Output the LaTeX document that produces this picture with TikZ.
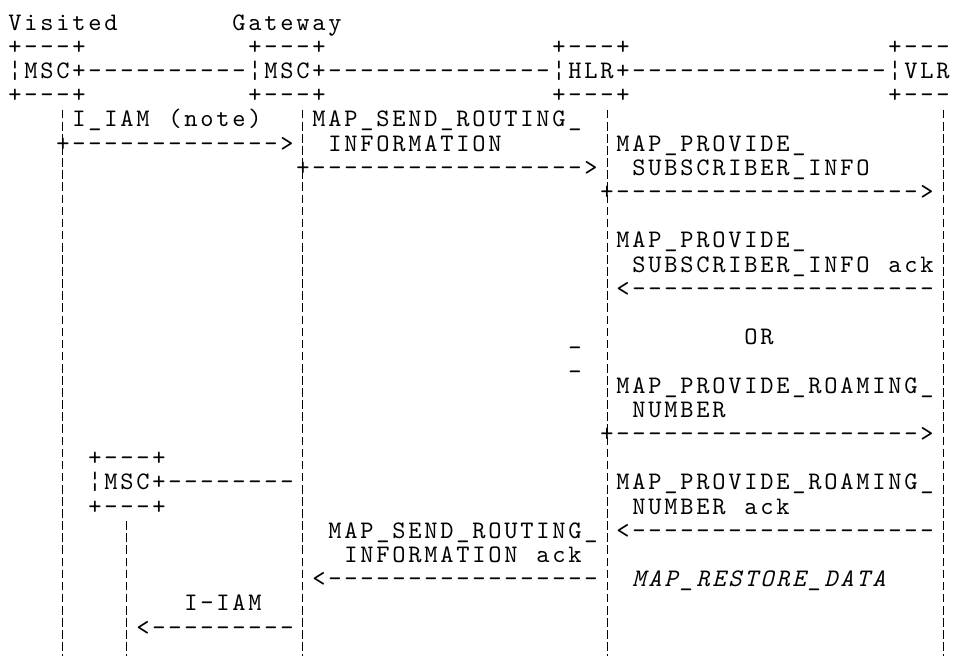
\documentclass[tikz,border=0pt]{standalone}
\usepackage{fontspec}
\usepackage{tikz}
\usetikzlibrary{positioning, calc}

% typewriter text, one column = 8pt, one line = 12.1pt
\newfontfamily\asciifam{lmmono10-regular.otf}[LetterSpace=11.0, ItalicFont=lmmono10-italic.otf]
\newcommand\asciifont{\fontsize{12.6}{12.1}\asciifam}

\begin{document}
\begin{tikzpicture}[
  x=8pt, y=-12.1pt,
  ascii/.style    = {anchor=base west, inner sep=0pt, outer sep=0pt, font=\asciifont},
  asciiit/.style  = {ascii, font=\asciifont\itshape},
  lifeline/.style = {line width=0.45pt, dash pattern=on 4.3pt off 1.75pt},
]
\useasboundingbox (0pt,0pt) rectangle (478.5pt,-327.5pt);

\begin{scope}[shift={(4.19pt,-15pt)}]

%── Entity titles ─────────────────────────────────────────────────────────────
\node[ascii] (visited) at (0,0)  {Visited};
\node[ascii] (gateway) at (14,0) {Gateway};

%── Boxes (rows 1-3) ──────────────────────────────────────────────────────────
\node[ascii] (vmscT) at (0,1)  {+---+};
\node[ascii] (gmscT) at (15,1) {+---+};
\node[ascii] (hlrT)  at (34,1) {+---+};
\node[ascii] (vlrT)  at (55,1) {+---};

\node[ascii] (vmsc)  at (0,2)  {¦MSC+----------};
\node[ascii] (gmsc)  at (15,2) {¦MSC+--------------};
\node[ascii] (hlr)   at (34,2) {¦HLR+----------------};
\node[ascii] (vlr)   at (55,2) {¦VLR};

\node[ascii] (vmscB) at (0,3)  {+---+};
\node[ascii] (gmscB) at (15,3) {+---+};
\node[ascii] (hlrB)  at (34,3) {+---+};
\node[ascii] (vlrB)  at (55,3) {+---};

%── Lifelines ─────────────────────────────────────────────────────────────────
\coordinate (vtop) at (3.41,3.3);   \coordinate (vbot) at (3.41,27.5);
\coordinate (gtop) at (18.41,3.3);  \coordinate (gbot) at (18.41,27.5);
\coordinate (htop) at (37.41,3.3);  \coordinate (hbot) at (37.41,27.5);
\coordinate (rtop) at (58.41,3.3);  \coordinate (rbot) at (58.41,27.5);
\coordinate (ntop) at (7.41,20.3);  \coordinate (nbot) at (7.41,27.5);   % new visited MSC

\draw[lifeline] (vtop) -- (vbot);
\draw[lifeline] (gtop) -- (gbot);
\draw[lifeline] (htop) -- (hbot);
\draw[lifeline] (rtop) -- (rbot);
\draw[lifeline] (ntop) -- (nbot);

%── I_IAM: visited MSC -> gateway MSC ─────────────────────────────────────────
\node[ascii] (iiam)    at (4,4)   {I\_IAM};
\node[ascii] (note)    at (10,4)  {(note)};
\node[ascii] (iiamarr) at (3,5)   {+------------->};

%── MAP_SEND_ROUTING_INFORMATION: gateway MSC -> HLR ──────────────────────────
\node[ascii] (sri)     at (19,4)  {MAP\_SEND\_ROUTING\_};
\node[ascii] (sri2)    at (20,5)  {INFORMATION};
\node[ascii] (sriarr)  at (18,6)  {+----------------->};

%── MAP_PROVIDE_SUBSCRIBER_INFO: HLR -> VLR ───────────────────────────────────
\node[ascii] (psi)     at (38,5)  {MAP\_PROVIDE\_};
\node[ascii] (psi2)    at (39,6)  {SUBSCRIBER\_INFO};
\node[ascii] (psiarr)  at (37,7)  {+------------------->};

\node[ascii] (psiack)  at (38,9)  {MAP\_PROVIDE\_};
\node[ascii] (psiack2) at (39,10) {SUBSCRIBER\_INFO};
\node[ascii] (psiack3) at (55,10) {ack};
\node[ascii] (psiarr2) at (38,11) {<-------------------};

%── OR ────────────────────────────────────────────────────────────────────────
\node[ascii] (bar1)    at (35,13) {\_};
\node[ascii] (bar2)    at (35,14) {\_};
\node[ascii] (or)      at (46,13) {OR};

%── MAP_PROVIDE_ROAMING_NUMBER: HLR -> VLR ────────────────────────────────────
\node[ascii] (prn)     at (38,15) {MAP\_PROVIDE\_ROAMING\_};
\node[ascii] (prn2)    at (39,16) {NUMBER};
\node[ascii] (prnarr)  at (37,17) {+------------------->};

%── New visited MSC box ───────────────────────────────────────────────────────
\node[ascii] (nmscT)   at (5,18)  {+---+};
\node[ascii] (nmsc)    at (5,19)  {¦MSC+--------};
\node[ascii] (nmscB)   at (5,20)  {+---+};

\node[ascii] (prnack)  at (38,19) {MAP\_PROVIDE\_ROAMING\_};
\node[ascii] (prnack2) at (39,20) {NUMBER};
\node[ascii] (prnack3) at (46,20) {ack};
\node[ascii] (prnarr2) at (38,21) {<-------------------};

%── MAP_SEND_ROUTING_INFORMATION ack: HLR -> gateway MSC ──────────────────────
\node[ascii] (sriack)  at (20,21) {MAP\_SEND\_ROUTING\_};
\node[ascii] (sriack2) at (21,22) {INFORMATION};
\node[ascii] (sriack3) at (33,22) {ack};
\node[ascii] (sriarr2) at (19,23) {<-----------------};

\node[asciiit] (rd)    at (39,23) {MAP\_RESTORE\_DATA};

%── I-IAM: gateway MSC -> new visited MSC ─────────────────────────────────────
\node[ascii] (iiam2)   at (11,24) {I-IAM};
\node[ascii] (iiamarr2)at (8,25)  {<---------};

\end{scope}
\end{tikzpicture}
\end{document}
